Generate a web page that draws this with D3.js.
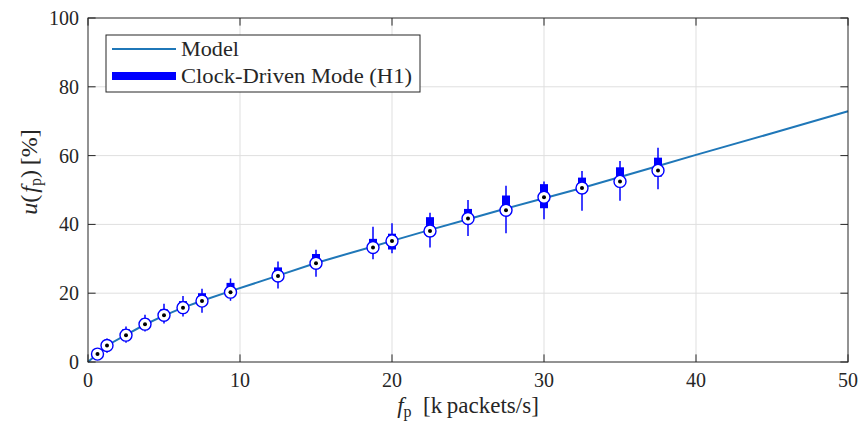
<!DOCTYPE html>
<html>
<head>
<meta charset="utf-8">
<script src="https://cdn.jsdelivr.net/npm/d3@7"></script>
<style>
  html, body { margin: 0; padding: 0; background: #fff; }
  svg { display: block; }
  text { font-family: "Liberation Serif", "DejaVu Serif", serif; fill: #262626; }
</style>
</head>
<body>
<svg id="chart" width="862" height="422"></svg>
<script>
// Packet rate (k packets/s) of each measured load level
const fp = [0.625, 1.25, 2.5, 3.75, 5, 6.25, 7.5, 9.375, 12.5, 15, 18.75, 20, 22.5, 25, 27.5, 30, 32.5, 35, 37.5];
// Measured utilisation statistics (%) for the clock-driven mode
const medianU = [2.3, 4.8, 7.8, 11.0, 13.6, 15.8, 17.7, 20.3, 25.0, 28.7, 33.3, 35.2, 38.1, 41.7, 44.1, 47.9, 50.6, 52.5, 55.7];
const q1U     = [2.0, 4.4, 7.3, 10.5, 13.0, 15.2, 17.0, 19.6, 24.2, 27.9, 32.3, 32.7, 36.5, 40.6, 43.0, 44.7, 49.0, 51.0, 53.9];
const q3U     = [2.9, 5.6, 9.5, 12.6, 15.3, 17.7, 20.0, 23.0, 27.5, 31.4, 35.8, 37.3, 42.1, 44.5, 48.4, 51.7, 53.6, 56.6, 59.4];
const loU     = [1.5, 2.7, 5.6, 8.9, 11.2, 13.2, 14.3, 17.8, 21.4, 24.8, 29.9, 31.6, 33.3, 36.6, 37.4, 41.5, 44.0, 46.9, 50.2];
const hiU     = [3.5, 6.8, 10.3, 13.7, 16.9, 19.2, 21.3, 24.3, 29.2, 32.6, 39.3, 40.3, 43.4, 47.1, 51.2, 52.5, 55.5, 58.4, 62.3];
// Model curve
const modelX = [0, 0.625, 1.25, 2.5, 3.75, 5, 6.25, 7.5, 9.375, 12.5, 15, 18.75, 20, 22.5, 25, 27.5, 30, 32.5, 35, 37.5, 40, 45, 50];
const modelY = [0, 2.4, 4.8, 7.9, 10.9, 13.5, 15.8, 17.8, 20.6, 25.1, 28.8, 33.6, 35.2, 38.4, 41.5, 44.6, 47.6, 50.6, 53.8, 57.0, 60.2, 66.5, 72.9];
// Axis ticks
const xTicks = [0, 10, 20, 30, 40, 50];
const yTicks = [0, 20, 40, 60, 80, 100];
const legendLabels = ["Model", "Clock-Driven Mode (H1)"];

const svg = d3.select("#chart");
const L = 88, R = 848, T = 18, B = 362;
const x = d3.scaleLinear().domain([0, 50]).range([L, R]);
const y = d3.scaleLinear().domain([0, 100]).range([B, T]);

const modelColor = "#1f77b8";
const markColor = "#0000FF";
const axisColor = "#262626";
const gridColor = "#dfdfdf";

// Grid
const grid = svg.append("g");
grid.selectAll(".gx").data(xTicks.slice(1, -1)).join("line")
  .attr("x1", d => x(d)).attr("x2", d => x(d)).attr("y1", T).attr("y2", B)
  .attr("stroke", gridColor).attr("stroke-width", 1);
grid.selectAll(".gy").data(yTicks.slice(1, -1)).join("line")
  .attr("y1", d => y(d)).attr("y2", d => y(d)).attr("x1", L).attr("x2", R)
  .attr("stroke", gridColor).attr("stroke-width", 1);

// Model line
const line = d3.line().x((d, i) => x(modelX[i])).y(d => y(d));
svg.append("path").datum(modelY)
  .attr("d", line).attr("fill", "none")
  .attr("stroke", modelColor).attr("stroke-width", 2);

// Compact box plots
const idx = d3.range(fp.length);
const g = svg.append("g");
g.selectAll(".wh").data(idx).join("line")
  .attr("x1", i => x(fp[i])).attr("x2", i => x(fp[i]))
  .attr("y1", i => y(loU[i])).attr("y2", i => y(hiU[i]))
  .attr("stroke", markColor).attr("stroke-width", 1.5);
g.selectAll(".bx").data(idx).join("rect")
  .attr("x", i => x(fp[i]) - 4).attr("width", 8)
  .attr("y", i => y(q3U[i])).attr("height", i => y(q1U[i]) - y(q3U[i]))
  .attr("fill", markColor);
g.selectAll(".md").data(idx).join("circle")
  .attr("cx", i => x(fp[i])).attr("cy", i => y(medianU[i])).attr("r", 6)
  .attr("fill", "#fff").attr("stroke", markColor).attr("stroke-width", 1.4);
g.selectAll(".dt").data(idx).join("circle")
  .attr("cx", i => x(fp[i])).attr("cy", i => y(medianU[i])).attr("r", 2)
  .attr("fill", "#000");

// Axes frame and inward ticks on all sides
const ax = svg.append("g");
ax.append("rect").attr("x", L).attr("y", T).attr("width", R - L).attr("height", B - T)
  .attr("fill", "none").attr("stroke", axisColor).attr("stroke-width", 1);
const tl = 7.6;
xTicks.forEach(t => {
  ax.append("line").attr("x1", x(t)).attr("x2", x(t)).attr("y1", B).attr("y2", B - tl)
    .attr("stroke", axisColor);
  ax.append("line").attr("x1", x(t)).attr("x2", x(t)).attr("y1", T).attr("y2", T + tl)
    .attr("stroke", axisColor);
});
yTicks.forEach(t => {
  ax.append("line").attr("y1", y(t)).attr("y2", y(t)).attr("x1", L).attr("x2", L + tl)
    .attr("stroke", axisColor);
  ax.append("line").attr("y1", y(t)).attr("y2", y(t)).attr("x1", R).attr("x2", R - tl)
    .attr("stroke", axisColor);
});

// Tick labels
ax.selectAll(".xt").data(xTicks).join("text")
  .attr("x", d => x(d)).attr("y", 387).attr("text-anchor", "middle")
  .attr("font-size", 20).text(d => d);
ax.selectAll(".yt").data(yTicks).join("text")
  .attr("x", 79).attr("y", d => y(d) + 7).attr("text-anchor", "end")
  .attr("font-size", 20).text(d => d);

// Axis titles
const xt = svg.append("text").attr("x", 468).attr("y", 413).attr("text-anchor", "middle")
  .attr("font-size", 23);
xt.append("tspan").attr("font-style", "italic").text("f");
xt.append("tspan").attr("font-size", 16).attr("dy", 4).text("p");
xt.append("tspan").attr("dy", -4).text("\u2002[k\u2009packets/s]");

const yt = svg.append("text")
  .attr("transform", "translate(37,172) rotate(-90)")
  .attr("text-anchor", "middle").attr("font-size", 24);
yt.append("tspan").attr("font-style", "italic").text("u");
yt.append("tspan").text("(\u200a");
yt.append("tspan").attr("font-style", "italic").text("f");
yt.append("tspan").attr("font-size", 16).attr("dy", 4).text("p");
yt.append("tspan").attr("dy", -4).text(")\u2009[%]");

// Legend
const lg = svg.append("g");
lg.append("rect").attr("x", 106).attr("y", 35).attr("width", 314).attr("height", 57)
  .attr("fill", "#fff").attr("stroke", axisColor).attr("stroke-width", 1);
lg.append("line").attr("x1", 112).attr("x2", 176).attr("y1", 49).attr("y2", 49)
  .attr("stroke", modelColor).attr("stroke-width", 2);
lg.append("line").attr("x1", 112).attr("x2", 176).attr("y1", 76).attr("y2", 76)
  .attr("stroke", markColor).attr("stroke-width", 8);
lg.append("text").attr("x", 181).attr("y", 55.5).attr("font-size", 20)
  .attr("textLength", 58).attr("lengthAdjust", "spacingAndGlyphs").text(legendLabels[0]);
lg.append("text").attr("x", 181).attr("y", 82.5).attr("font-size", 20)
  .attr("textLength", 231).attr("lengthAdjust", "spacingAndGlyphs").text(legendLabels[1]);
</script>
</body>
</html>
